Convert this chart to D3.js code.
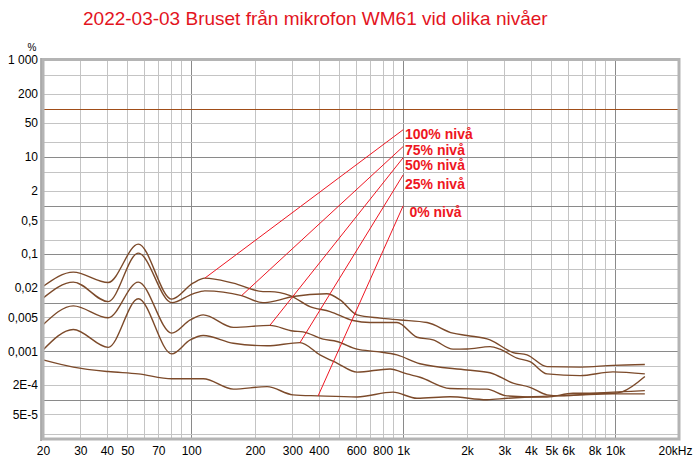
<!DOCTYPE html>
<html>
<head>
<meta charset="utf-8">
<script src="https://cdnjs.cloudflare.com/ajax/libs/d3/7.8.5/d3.min.js"></script>
<style>
    body { margin: 0; background: #fff; }
    svg { display: block; }
</style>
</head>
<body>
<div class="chart__container"></div>
<script>
/*---------------------------Init---------------------------*/

const CHART__WIDTH = 700;
const CHART__HEIGHT = 463;
const MARGIN = {
    top: 60,
    right: 21,
    bottom: 24,
    left: 43,
}
const COLOR = {
    grid: "#c4c4c4",
    gridDark: "#8a8a8a",
    frame: "#b4b4b4",
    curve: "#7c4a2a",
    reference: "#a04d18",
    red: "#ee1622",
    title: "#e3141e"
}
const FONT = "'Liberation Sans', Arial, sans-serif";

const TITLE = "2022-03-03 Bruset från mikrofon WM61 vid olika nivåer";

//x-axis ticks (Hz)
const FREQ_TICKS = [20, 30, 40, 50, 70, 100, 200, 300, 400, 600, 800, 1000, 2000, 3000, 4000, 5000, 6000, 8000, 10000, 20000];
const FREQ_LABELS = ["20", "30", "40", "50", "70", "100", "200", "300", "400", "600", "800", "1k", "2k", "3k", "4k", "5k", "6k", "8k", "10k", "20kHz"];

//y-axis ticks (%)
const LEVEL_TICKS = [1000, 200, 50, 10, 2, 0.5, 0.1, 0.02, 0.005, 0.001, 0.0002, 0.00005];
const LEVEL_LABELS = ["1 000", "200", "50", "10", "2", "0,5", "0,1", "0,02", "0,005", "0,001", "2E-4", "5E-5"];

//reference line at 100 %
const REFERENCE_LEVEL = 100;

//noise curves [Hz, %]
const SERIES_NAMES = ["100% nivå", "75% nivå", "50% nivå", "25% nivå", "0% nivå"];

const NOISE_100 = [[20, 0.0215], [27.8, 0.0425], [40.6, 0.026], [56.3, 0.161], [81, 0.0118], [102, 0.0252], [116, 0.032], [158, 0.0252], [218, 0.0169], [235, 0.0169], [293, 0.014], [363, 0.0083], [452, 0.00655], [580, 0.00428], [697, 0.00389], [935, 0.00389], [1162, 0.00194], [1383, 0.00171], [1718, 0.0011], [2000, 0.00111], [2568, 0.00124], [2862, 0.0011], [3443, 0.000717], [3964, 0.00061], [4770, 0.00034], [6828, 0.000314], [9766, 0.000374], [13800, 0.00034]];

const NOISE_75 = [[20, 0.0124], [27.8, 0.0265], [40.6, 0.0105], [56.3, 0.105], [81, 0.01], [102, 0.0152], [116, 0.0175], [173, 0.014], [218, 0.01], [253, 0.011], [302, 0.0134], [436, 0.0152], [504, 0.0114], [606, 0.0056], [777, 0.0048], [966, 0.0044], [1296, 0.00389], [1718, 0.00235], [2000, 0.0021], [2568, 0.00171], [3296, 0.000936], [3838, 0.00084], [4770, 0.00048], [6828, 0.00047], [9766, 0.00051], [13800, 0.00053]];

const NOISE_50 = [[20, 0.0035], [27.8, 0.0086], [40.6, 0.0049], [56.3, 0.0265], [81, 0.00235], [99, 0.0044], [114, 0.0056], [158, 0.0031], [235, 0.0034], [302, 0.0026], [337, 0.0025], [419, 0.00177], [487, 0.00158], [606, 0.0011], [753, 0.00098], [935, 0.00084], [1200, 0.00055], [2000, 0.00041], [2568, 0.00036], [3296, 0.00022], [3964, 0.00018], [4770, 0.000126], [5492, 0.00012], [8480, 0.000138], [13800, 0.000154]];

const NOISE_25 = [[20, 0.00106], [27.8, 0.0028], [40.6, 0.0012], [56.3, 0.012], [81, 0.00088], [99, 0.00171], [114, 0.0021], [158, 0.00146], [228, 0.00129], [326, 0.0015], [405, 0.00084], [487, 0.00057], [606, 0.00037], [867, 0.00043], [1042, 0.00034], [1200, 0.00029], [1663, 0.00017], [2486, 0.000165], [3088, 0.00012], [4770, 0.000113], [6325, 0.000136], [9766, 0.000136], [10770, 0.000145], [13800, 0.0003]];

const NOISE_0 = [[20, 0.00066], [27.8, 0.00047], [40.6, 0.00038], [56.3, 0.00034], [81, 0.00027], [114, 0.00027], [158, 0.000165], [228, 0.000186], [302, 0.000126], [397, 0.00012], [606, 0.000114], [895, 0.000143], [1162, 0.000107], [1663, 0.000115], [2486, 0.0001], [3088, 0.000107], [4096, 0.000115], [6828, 0.000126], [9766, 0.000132], [13800, 0.000132]];

//annotation lines: from label [Hz, %] to curve [Hz, %]
const ANNOTATION_FROM = [[1000, 36.6], [1000, 16.5], [1000, 9.7], [1000, 4.3], [1000, 0.99]];
const ANNOTATION_TO = [[116, 0.032], [173, 0.014], [235, 0.0034], [326, 0.0015], [397, 0.00012]];
const LABEL_AT = [[1020, 23.8], [1020, 11.2], [1020, 5.5], [1020, 2.2], [1070, 0.58]];

/*---------------------------Draw---------------------------*/

const drawChart = () => {
    const series = [NOISE_100, NOISE_75, NOISE_50, NOISE_25, NOISE_0];

    const xScale = d3.scaleLog().domain([20, 20000]).range([MARGIN.left, CHART__WIDTH - MARGIN.right]);
    const yScale = d3.scaleLog().domain([1.55e-5, 1000]).range([CHART__HEIGHT - MARGIN.bottom, MARGIN.top]);

    const isDecade = v => Math.abs(Math.log10(v) - Math.round(Math.log10(v))) < 1e-6;

    //create svg

    const svg = d3.select(".chart__container").append("svg")
        .attr("width", CHART__WIDTH)
        .attr("height", CHART__HEIGHT)
        .style("background-color", "#fff");

    //create title

    svg.append("text")
        .attr("x", 83)
        .attr("y", 25)
        .attr("fill", COLOR.title)
        .style("font-family", FONT)
        .style("font-size", "19px")
        .text(TITLE);

    //create grid

    const grid = svg.append("g");
    const [x0, x1] = xScale.range();
    const [y0, y1] = yScale.range();

    const xGrid = xScale.ticks().filter(d => d > 20 && d < 20000);
    const yGrid = yScale.ticks().filter(d => {
        const k = Math.round(d / Math.pow(10, Math.floor(Math.log10(d) + 1e-9)));
        return (k === 1 || k === 2 || k === 5) && d < 1000;
    });

    grid.selectAll(".xg")
        .data(xGrid.sort((a, b) => isDecade(a) - isDecade(b)))
        .enter()
        .append("line")
        .attr("x1", d => Math.round(xScale(d)) + 0.5)
        .attr("x2", d => Math.round(xScale(d)) + 0.5)
        .attr("y1", y1)
        .attr("y2", y0)
        .attr("stroke", d => isDecade(d) ? COLOR.gridDark : COLOR.grid);

    grid.selectAll(".yg")
        .data(yGrid.sort((a, b) => isDecade(a) - isDecade(b)))
        .enter()
        .append("line")
        .attr("x1", x0)
        .attr("x2", x1)
        .attr("y1", d => Math.round(yScale(d)) + 0.5)
        .attr("y2", d => Math.round(yScale(d)) + 0.5)
        .attr("stroke", d => isDecade(d) ? COLOR.gridDark : COLOR.grid);

    //reference line

    svg.append("line")
        .attr("x1", x0)
        .attr("x2", x1)
        .attr("y1", Math.round(yScale(REFERENCE_LEVEL)) + 0.5)
        .attr("y2", Math.round(yScale(REFERENCE_LEVEL)) + 0.5)
        .attr("stroke", COLOR.reference)
        .attr("stroke-width", 1.2);

    //create curves

    const line = d3.line()
        .x(d => xScale(d[0]))
        .y(d => yScale(d[1]))
        .curve(d3.curveMonotoneX);

    svg.append("g").selectAll(".curve")
        .data(series)
        .enter()
        .append("path")
        .attr("class", "curve")
        .attr("d", line)
        .attr("fill", "none")
        .attr("stroke", COLOR.curve)
        .attr("stroke-width", 1.4);

    //create annotations

    const notes = svg.append("g");

    notes.selectAll(".pointer")
        .data(ANNOTATION_FROM)
        .enter()
        .append("line")
        .attr("x1", d => xScale(d[0]))
        .attr("y1", d => yScale(d[1]))
        .attr("x2", (d, i) => xScale(ANNOTATION_TO[i][0]))
        .attr("y2", (d, i) => yScale(ANNOTATION_TO[i][1]))
        .attr("stroke", COLOR.red)
        .attr("stroke-width", 1);

    notes.selectAll(".label")
        .data(LABEL_AT)
        .enter()
        .append("text")
        .attr("x", d => xScale(d[0]))
        .attr("y", d => yScale(d[1]))
        .attr("fill", COLOR.red)
        .style("font-family", FONT)
        .style("font-size", "14px")
        .style("font-weight", "bold")
        .text((d, i) => SERIES_NAMES[i]);

    //create frame

    const frame = svg.append("g");
    frame.append("rect")
        .attr("x", x0)
        .attr("y", y1 - 0.5)
        .attr("width", x1 - x0)
        .attr("height", y0 - y1 + 0.5)
        .attr("fill", "none")
        .attr("stroke", COLOR.frame)
        .attr("stroke-width", 3);
    frame.append("line")
        .attr("x1", x0 - 2)
        .attr("x2", x0 - 2)
        .attr("y1", y1 - 2)
        .attr("y2", y0 + 2)
        .attr("stroke", "#9a9a9a")
        .attr("stroke-width", 1.5);

    //create x-axis

    const abscissa = d3.axisBottom(xScale)
        .tickValues(FREQ_TICKS)
        .tickFormat((d, i) => FREQ_LABELS[i])
        .tickSize(0)
        .tickPadding(7);
    const xAxis = svg.append("g")
        .attr("transform", `translate(0,${y0})`)
        .call(abscissa);
    xAxis.select(".domain").remove();
    xAxis.selectAll("text")
        .style("font-family", FONT)
        .style("font-size", "12px")
        .attr("fill", "#000")
        .attr("dx", (d, i) => i === FREQ_TICKS.length - 1 ? -4 : 0);

    //create y-axis

    const ordinate = d3.axisLeft(yScale)
        .tickValues(LEVEL_TICKS)
        .tickFormat((d, i) => LEVEL_LABELS[i])
        .tickSize(0)
        .tickPadding(5);
    const yAxis = svg.append("g")
        .attr("transform", `translate(${x0},0)`)
        .call(ordinate);
    yAxis.select(".domain").remove();
    yAxis.selectAll("text")
        .style("font-family", FONT)
        .style("font-size", "12px")
        .attr("fill", "#000");

    svg.append("text")
        .attr("x", 32)
        .attr("y", 51)
        .attr("text-anchor", "middle")
        .style("font-family", FONT)
        .style("font-size", "10px")
        .text("%");
}

drawChart();
</script>
</body>
</html>
